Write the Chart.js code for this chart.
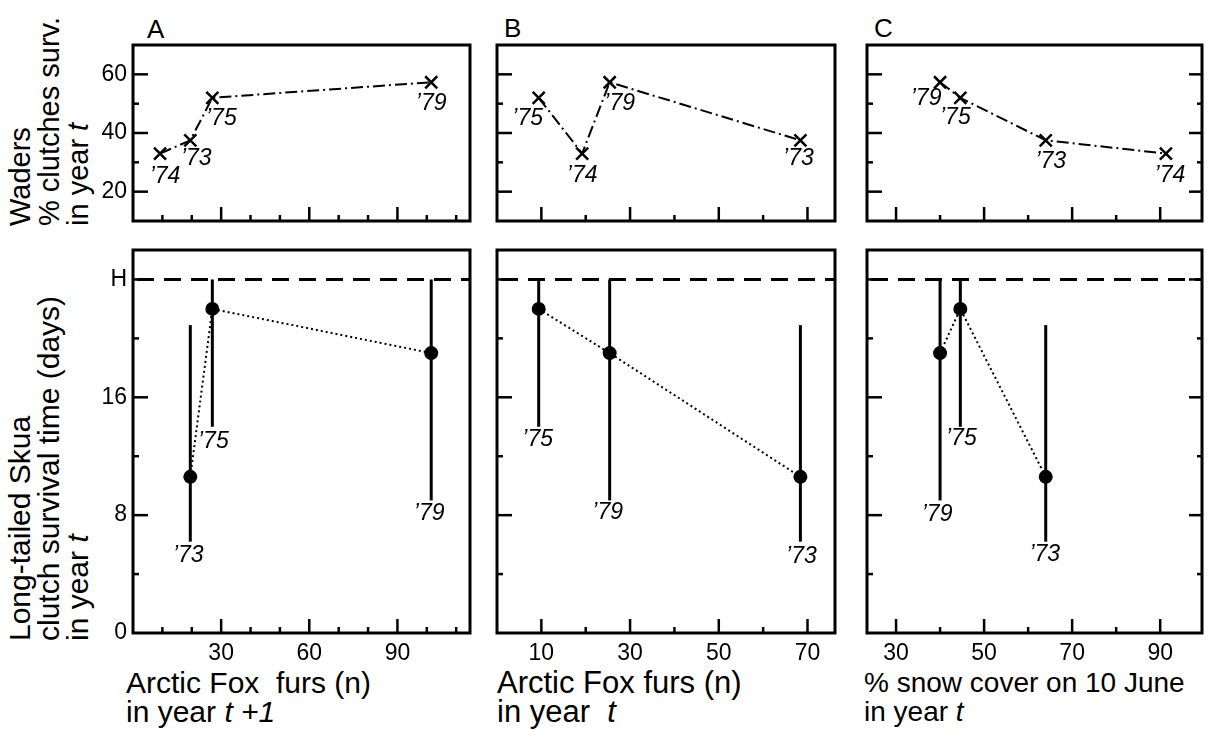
<!DOCTYPE html>
<html>
<head>
<meta charset="utf-8">
<script src="https://cdn.jsdelivr.net/npm/chart.js@4.4.0/dist/chart.umd.min.js"></script>
<style>
  body { margin: 0; background: #fff; width: 1208px; height: 730px; position: relative; overflow: hidden;
         font-family: "Liberation Sans", Arial, sans-serif; color: #000; }
  canvas { position: absolute; }
  .t { position: absolute; white-space: pre; }
  .rot { transform-origin: 0 0; transform: rotate(-90deg); }
</style>
</head>
<body>

<div class="t" style="left:147px;top:16px;font-size:26px;line-height:26px;">A</div>
<div class="t" style="left:504px;top:15px;font-size:26px;line-height:26px;">B</div>
<div class="t" style="left:874px;top:15px;font-size:26px;line-height:26px;">C</div>

<div class="t rot" style="left:6px;top:226px;font-size:29px;line-height:29px;">Waders<br>% clutches surv.<br>in year <i>t</i></div>
<div class="t rot" style="left:5px;top:641px;font-size:30px;line-height:29px;">Long-tailed Skua<br>clutch survival time (days)<br>in year <i>t</i></div>

<div class="t" style="left:126px;top:668px;font-size:30px;line-height:29px;">Arctic Fox  furs (n)<br>in year <i>t +1</i></div>
<div class="t" style="left:497px;top:668px;font-size:31px;line-height:29px;">Arctic Fox furs (n)<br>in year  <i>t</i></div>
<div class="t" style="left:864px;top:668px;font-size:28px;line-height:29px;">% snow cover on 10 June<br>in year <i>t</i></div>

<script>
// Jahre (Beobachtungsjahre)
var years = ['\u201973', '\u201974', '\u201975', '\u201979'];

// x-Werte je Panel
var foxNextYear = [19.5, 9.2, 27, 101.5];   // A: Polarfuchs-Felle im Jahr t+1
var foxSameYear = [68.4, 19.2, 9.4, 25.4];  // B: Polarfuchs-Felle im Jahr t
var snowCover = [64, 91.3, 44.6, 40];       // C: % Schneebedeckung am 10. Juni

// Watvögel: % überlebende Gelege
var waderSurv = [37.5, 33, 52, 57.3];

// Falkenraubmöwe: Überlebenszeit der Gelege (Tage), Mittel und Spannweite
var skuaMid = [10.6, null, 22, 19];
var skuaLow = [6.2, null, 14, 9];
var skuaHigh = [20.9, null, 24, 24];
var hLevel = 24; // Linie "H"

// Achsen
var waderMajor = [20, 40, 60], waderMinor = [30, 50];
var skuaMajor = [8, 16, 24], skuaMinor = [4, 12, 20];
var skuaLabelVals = [0, 8, 16, 24];
var xMajorA = [30, 60, 90], xMinorA = [10, 20, 40, 50, 70, 80, 100, 110];
var xMajorB = [10, 30, 50, 70], xMinorB = [20, 40, 60];
var xMajorC = [30, 50, 70, 90], xMinorC = [40, 60, 80];

// Position der Jahreszahlen (Pixelversatz), oben relativ zum Punkt, unten zum unteren Balkenende
var waderLabelOff = {
  A: [[6, 18], [5, 23], [9, 21], [0, 21]],
  B: [[-2, 18], [0, 22], [-11, 21], [10, 21]],
  C: [[5, 21], [4, 22], [-5, 20], [-14, 16]]
};
var skuaLabelOff = {
  A: [[-2, 14], null, [1, 15], [-2, 13]],
  B: [[1, 15], null, [-1, 13], [-2, 12]],
  C: [[-1, 13], null, [1, 12], [-3, 14]]
};

var FONT = '"Liberation Sans", Arial, sans-serif';

function punkte(xs, ys) {
  var out = [];
  for (var i = 0; i < xs.length; i++) {
    if (ys[i] == null) continue;
    out.push({ x: xs[i], y: ys[i], i: i });
  }
  return out.sort(function(a, b) { return a.x - b.x; });
}

function panelPlugin(p) {
  return {
    id: 'panel',
    beforeDatasetsDraw: function(chart) {
      var ctx = chart.ctx, xs = chart.scales.x, ys = chart.scales.y, a = chart.chartArea;
      ctx.save();
      ctx.strokeStyle = '#000';
      if (p.row === 'skua') {
        // gestrichelte Linie H
        ctx.lineWidth = 3;
        ctx.setLineDash([17, 10]);
        ctx.lineDashOffset = -4;
        var yh = ys.getPixelForValue(hLevel);
        ctx.beginPath(); ctx.moveTo(a.left, yh); ctx.lineTo(a.right, yh); ctx.stroke();
        ctx.setLineDash([]);
        // Spannweiten
        ctx.lineWidth = 3;
        for (var i = 0; i < p.xs.length; i++) {
          if (skuaLow[i] == null) continue;
          var px = xs.getPixelForValue(p.xs[i]);
          ctx.beginPath();
          ctx.moveTo(px, ys.getPixelForValue(skuaLow[i]));
          ctx.lineTo(px, ys.getPixelForValue(skuaHigh[i]));
          ctx.stroke();
        }
      }
      ctx.restore();
    },
    afterDraw: function(chart) {
      var ctx = chart.ctx, xs = chart.scales.x, ys = chart.scales.y, a = chart.chartArea;
      ctx.save();
      ctx.strokeStyle = '#000';
      ctx.lineWidth = 3;
      ctx.strokeRect(a.left, a.top, a.right - a.left, a.bottom - a.top);
      // Striche nach innen
      function xt(v, len) {
        var px = xs.getPixelForValue(v);
        ctx.beginPath(); ctx.moveTo(px, a.bottom); ctx.lineTo(px, a.bottom - len); ctx.stroke();
      }
      function yt(v, len, right) {
        var py = ys.getPixelForValue(v);
        ctx.beginPath();
        if (right) { ctx.moveTo(a.right, py); ctx.lineTo(a.right - len, py); }
        else { ctx.moveTo(a.left, py); ctx.lineTo(a.left + len, py); }
        ctx.stroke();
      }
      ctx.lineWidth = 2.5;
      p.xMajor.forEach(function(v) { xt(v, 14); });
      p.xMinor.forEach(function(v) { xt(v, 6); });
      var yMaj = p.row === 'skua' ? skuaMajor : waderMajor;
      var yMin = p.row === 'skua' ? skuaMinor : waderMinor;
      yMaj.forEach(function(v) { yt(v, 15, false); if (p.rightTicks) yt(v, 13, true); });
      yMin.forEach(function(v) { yt(v, 6, false); if (p.rightTicks) yt(v, 5, true); });
      // Jahreszahlen
      ctx.fillStyle = '#000';
      ctx.font = 'italic 23px ' + FONT;
      ctx.textAlign = 'center';
      ctx.textBaseline = 'middle';
      for (var i = 0; i < p.xs.length; i++) {
        var px = xs.getPixelForValue(p.xs[i]), py, off;
        if (p.row === 'skua') {
          if (skuaLow[i] == null) continue;
          off = skuaLabelOff[p.id][i];
          py = ys.getPixelForValue(skuaLow[i]);
        } else {
          off = waderLabelOff[p.id][i];
          py = ys.getPixelForValue(waderSurv[i]);
        }
        ctx.fillText(years[i], px + off[0], py + off[1]);
      }
      ctx.restore();
    }
  };
}

function buildPanel(p) {
  var padL = 60, padR = 12, padT = 26, padB = 42;
  var W = padL + p.box.w + padR, H = padT + p.box.h + padB;
  var cv = document.createElement('canvas');
  cv.width = W; cv.height = H;
  cv.style.left = (p.box.x - padL) + 'px';
  cv.style.top = (p.box.y - padT) + 'px';
  cv.style.width = W + 'px'; cv.style.height = H + 'px';
  document.body.appendChild(cv);

  var skua = p.row === 'skua';
  var pts = punkte(p.xs, skua ? skuaMid : waderSurv);
  var ds = skua ? {
    data: pts,
    borderColor: '#000', borderWidth: 2, borderDash: [2, 3],
    pointStyle: 'circle', pointRadius: 7, pointBackgroundColor: '#000', pointBorderColor: '#000', pointBorderWidth: 0
  } : {
    data: pts,
    borderColor: '#000', borderWidth: 2, borderDash: [12, 4, 2, 4],
    pointStyle: 'crossRot', pointRadius: 8.5, pointBorderColor: '#000', pointBorderWidth: 2.5,
    pointBackgroundColor: 'rgba(0,0,0,0)'
  };
  var yLabels = skua ? skuaLabelVals : waderMajor;

  new Chart(cv, {
    type: 'line',
    data: { datasets: [ds] },
    plugins: [panelPlugin(p)],
    options: {
      responsive: false,
      maintainAspectRatio: false,
      animation: false,
      events: [],
      layout: { padding: { top: padT, right: padR, left: 0, bottom: 0 } },
      plugins: { legend: { display: false }, tooltip: { enabled: false } },
      scales: {
        x: {
          type: 'linear', position: 'bottom', min: p.xMin, max: p.xMax,
          grid: { display: false, drawTicks: false },
          border: { display: false },
          afterBuildTicks: function(s) { s.ticks = p.xMajor.map(function(v) { return { value: v }; }); },
          afterFit: function(s) { s.height = padB; },
          ticks: {
            display: skua, autoSkip: false, maxRotation: 0, padding: 7, color: '#000',
            font: { family: FONT, size: 23 },
            callback: function(v) { return String(v); }
          }
        },
        y: {
          type: 'linear', position: 'left', min: skua ? 0 : 10, max: skua ? 26 : 70,
          grid: { display: false, drawTicks: false },
          border: { display: false },
          afterBuildTicks: function(s) { s.ticks = yLabels.map(function(v) { return { value: v }; }); },
          afterFit: function(s) { s.width = padL; },
          ticks: {
            display: p.id === 'A', autoSkip: false, padding: 6, color: '#000',
            font: { family: FONT, size: 23 },
            callback: function(v) { return v === hLevel && skua ? 'H' : String(v); }
          }
        }
      }
    }
  });
}

var boxesX = { A: [133, 337], B: [497, 338], C: [867, 335] };
var rows = { wader: [45, 176], skua: [250, 383] };
var panelX = {
  A: { xs: foxNextYear, xMin: 0, xMax: 114.7, xMajor: xMajorA, xMinor: xMinorA, rightTicks: false },
  B: { xs: foxSameYear, xMin: 0, xMax: 76.2, xMajor: xMajorB, xMinor: xMinorB, rightTicks: false },
  C: { xs: snowCover, xMin: 23.4, xMax: 99.5, xMajor: xMajorC, xMinor: xMinorC, rightTicks: true }
};

['wader', 'skua'].forEach(function(row) {
  ['A', 'B', 'C'].forEach(function(id) {
    var c = panelX[id];
    buildPanel({
      id: id, row: row,
      box: { x: boxesX[id][0], w: boxesX[id][1], y: rows[row][0], h: rows[row][1] },
      xs: c.xs, xMin: c.xMin, xMax: c.xMax, xMajor: c.xMajor, xMinor: c.xMinor, rightTicks: c.rightTicks
    });
  });
});
</script>
</body>
</html>
